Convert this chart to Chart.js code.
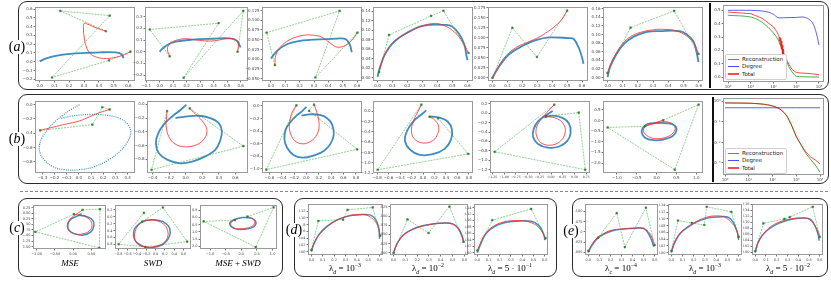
<!DOCTYPE html>
<html>
<head>
<meta charset="utf-8">
<script src="https://cdn.jsdelivr.net/npm/chart.js@4.4.0/dist/chart.umd.min.js"></script>
<style>
  body { margin:0; background:#fff; width:831px; height:282px; position:relative; overflow:hidden; font-family:"DejaVu Sans",sans-serif; }
  canvas { position:absolute; }
  .box { position:absolute; border:1.5px solid #2b2b2b; border-radius:9px; box-sizing:border-box; }
  .sep { position:absolute; width:2px; background:#111; }
  .tag { position:absolute; font-family:"Liberation Serif",serif; font-size:14px; line-height:14px; background:#fff; padding:0 1px; transform:translate(-50%,-50%); z-index:5; }
  .cap { position:absolute; font-family:"Liberation Serif",serif; font-size:9px; white-space:nowrap; transform:translate(-50%,-50%); z-index:5; }
  .cap sub, .cap sup { font-size:65%; line-height:0; }
  .lg { position:absolute; z-index:6; border:0.8px solid #cfcfcf; border-radius:2px; background:#fff; padding:1px 3px 1px 2px; font:5.5px "DejaVu Sans",sans-serif; line-height:7.3px; color:#222; }
  .lg span { display:inline-block; width:11px; height:1.2px; vertical-align:middle; margin-right:3px; }
</style>
</head>
<body>
<div class="box" style="left:18px;top:1px;width:811px;height:89px"></div>
<div class="box" style="left:18px;top:94px;width:811px;height:90px"></div>
<div style="position:absolute;left:20px;top:191px;width:808px;border-top:1px dashed #888"></div>
<div class="box" style="left:18px;top:198px;width:265px;height:79px"></div>
<div class="box" style="left:294px;top:198px;width:263px;height:79px"></div>
<div class="box" style="left:572px;top:198px;width:256px;height:79px"></div>
<div class="sep" style="left:709px;top:3px;height:85px"></div>
<div class="sep" style="left:712px;top:97px;height:85px"></div>

<div class="tag" style="left:17px;top:47px">(<i>a</i>)</div>
<div class="tag" style="left:17px;top:139px">(<i>b</i>)</div>
<div class="tag" style="left:17px;top:228px">(<i>c</i>)</div>
<div class="tag" style="left:294px;top:230px">(<i>d</i>)</div>
<div class="tag" style="left:571px;top:231px">(<i>e</i>)</div>

<div class="cap" style="left:70px;top:263px"><i>MSE</i></div>
<div class="cap" style="left:153px;top:263px"><i>SWD</i></div>
<div class="cap" style="left:238px;top:263px"><i>MSE</i> + <i>SWD</i></div>
<div class="cap" style="left:345px;top:268px">λ<sub><i>d</i></sub> = 10<sup>−3</sup></div>
<div class="cap" style="left:428px;top:268px">λ<sub><i>d</i></sub> = 10<sup>−2</sup></div>
<div class="cap" style="left:510px;top:268px">λ<sub><i>d</i></sub> = 5 · 10<sup>−1</sup></div>
<div class="cap" style="left:621px;top:268px">λ<sub><i>c</i></sub> = 10<sup>−4</sup></div>
<div class="cap" style="left:705px;top:268px">λ<sub><i>d</i></sub> = 10<sup>−3</sup></div>
<div class="cap" style="left:788px;top:268px">λ<sub><i>d</i></sub> = 5 · 10<sup>−2</sup></div>

<div class="lg" style="left:725px;top:54px">
  <div><span style="background:#3aa83a"></span>Reconstruction</div>
  <div><span style="background:#4a4aff"></span>Degree</div>
  <div><span style="background:#ff4a4a"></span>Total</div>
</div>
<div class="lg" style="left:725px;top:148px">
  <div><span style="background:#3aa83a"></span>Reconstruction</div>
  <div><span style="background:#4a4aff"></span>Degree</div>
  <div><span style="background:#ff4a4a"></span>Total</div>
</div>

<script>
// ---- row (a): control polygon (green), fitted curve (red), target curve (blue)
const a1Ctrl = [[0.447,0.348],[0.14,0.58],[0.473,0.526],[0.084,-0.18],[0.469,0.015],[0.613,0.115]];
const a1Fit = [[0.447,0.348],[0.384,0.385],[0.322,0.43],[0.30,0.437],[0.296,0.385],[0.30,0.293],[0.313,0.181],[0.34,0.096],[0.384,0.052],[0.451,0.037],[0.518,0.052],[0.573,0.081],[0.613,0.115]];
const a1Tgt = [[0,0.004],[0.05,0.04],[0.118,0.07],[0.207,0.089],[0.318,0.1],[0.407,0.107],[0.507,0.107],[0.551,0.089],[0.567,0.041]];
const a1X = [0,0.1,0.2,0.3,0.4,0.5,0.6];
const a1Y = [-0.2,-0.1,0,0.1,0.2,0.3,0.4,0.5,0.6];

const a2Ctrl = [[0.075,-0.039],[-0.073,0.19],[0.437,0.244],[0.178,-0.222],[0.62,0.35],[0.578,0.0]];
const a2Fit = [[0.075,-0.039],[0.058,0.022],[0.075,0.069],[0.12,0.097],[0.195,0.111],[0.295,0.097],[0.395,0.092],[0.495,0.111],[0.558,0.106],[0.583,0.064],[0.578,0.0]];
const a2Tgt = [[0,0],[0.045,0.05],[0.12,0.086],[0.245,0.103],[0.395,0.111],[0.52,0.114],[0.575,0.092],[0.6,0.036]];
const a2X = [-0.1,0,0.1,0.2,0.3,0.4,0.5,0.6];
const a2Y = [-0.2,-0.1,0,0.1,0.2,0.3];

const a3Ctrl = [[0.028,-0.015],[-0.03,0.068],[0.478,0.124],[0.31,-0.047],[0.602,0.068]];
const a3Fit = [[0.028,-0.015],[0.034,0.01],[0.069,0.0325],[0.126,0.049],[0.207,0.06],[0.287,0.062],[0.356,0.056],[0.414,0.041],[0.46,0.031],[0.517,0.035],[0.563,0.049],[0.602,0.068]];
const a3Tgt = [[0,0.002],[0.046,0.0225],[0.115,0.039],[0.184,0.046],[0.299,0.05],[0.46,0.053],[0.517,0.052],[0.547,0.039],[0.563,0.018]];
const a3X = [0,0.1,0.2,0.3,0.4,0.5,0.6];
const a3Y = [-0.05,-0.025,0,0.025,0.05,0.075,0.1,0.125];

const a4Ctrl = [[0.011,0.012],[0.077,0.09],[0.358,0.13],[0.44,0.141],[0.607,0.052]];
const a4Fit = [[0.011,0.012],[0.029,0.033],[0.062,0.057],[0.116,0.078],[0.193,0.093],[0.281,0.107],[0.369,0.114],[0.435,0.111],[0.501,0.099],[0.556,0.081],[0.607,0.052]];
const a4Tgt = [[0,0.002],[0.018,0.023],[0.051,0.05],[0.105,0.074],[0.193,0.094],[0.303,0.109],[0.457,0.111],[0.501,0.107],[0.545,0.092],[0.578,0.071],[0.593,0.047],[0.6,0.037]];
const a4X = [0,0.1,0.2,0.3,0.4,0.5,0.6];
const a4Y = [0,0.02,0.04,0.06,0.08,0.10,0.12,0.14];

const a5Ctrl = [[0,0],[0.133,0.125],[0.298,0.052],[0.5,0.168]];
const a5Fit = [[0,0],[0.038,0.027],[0.093,0.056],[0.159,0.076],[0.236,0.089],[0.313,0.102],[0.357,0.112],[0.423,0.13],[0.467,0.147],[0.5,0.168]];
const a5Tgt = [[0,0],[0.049,0.031],[0.115,0.06],[0.203,0.08],[0.291,0.094],[0.379,0.101],[0.511,0.099],[0.544,0.097],[0.577,0.076],[0.599,0.052],[0.61,0.035]];
const a5X = [0,0.1,0.2,0.3,0.4,0.5,0.6];
const a5Y = [0,0.025,0.05,0.075,0.1,0.125,0.15,0.175];

const a6Ctrl = [[0,0.011],[0.151,0.116],[0.438,0.155],[0.598,0.055]];
const a6Fit = [[0,0.011],[0.022,0.033],[0.054,0.055],[0.097,0.078],[0.151,0.095],[0.216,0.105],[0.302,0.111],[0.378,0.112],[0.454,0.108],[0.518,0.097],[0.572,0.078],[0.598,0.055]];
const a6Tgt = [[0,0.001],[0.017,0.025],[0.054,0.052],[0.108,0.078],[0.173,0.095],[0.259,0.106],[0.346,0.108],[0.475,0.108],[0.518,0.101],[0.562,0.086],[0.583,0.063],[0.594,0.044],[0.598,0.036]];
const a6X = [0,0.1,0.2,0.3,0.4,0.5,0.6];
const a6Y = [0,0.02,0.04,0.06,0.08,0.10,0.12,0.14,0.16];

// ---- row (b)
const b1Ctrl = [[-0.318,-0.36],[0.11,-0.28],[0.192,-0.036],[0.252,-0.067]];
const b1Fit = [[-0.318,-0.36],[-0.214,-0.316],[-0.104,-0.271],[0.005,-0.227],[0.088,-0.169],[0.17,-0.111],[0.252,-0.067]];
const b1Tgt = [[0.005,0],[-0.063,-0.067],[-0.132,-0.147],[-0.2,-0.244],[-0.255,-0.347],[-0.301,-0.458],[-0.323,-0.569],[-0.318,-0.68],[-0.282,-0.778],[-0.214,-0.867],[-0.118,-0.911],[0.005,-0.911],[0.129,-0.867],[0.238,-0.778],[0.334,-0.658],[0.397,-0.524],[0.425,-0.391],[0.403,-0.28],[0.334,-0.191],[0.225,-0.147],[0.088,-0.138],[-0.049,-0.156],[-0.145,-0.191]];
const b1X = [-0.3,-0.2,-0.1,0,0.1,0.2,0.3,0.4];
const b1Y = [-0.8,-0.6,-0.4,-0.2,0];

const b2Ctrl = [[0.048,-0.06],[0.696,-0.609],[-0.412,-0.953],[-0.224,-0.098]];
const b2Fit = [[0.048,-0.06],[0.136,-0.163],[0.216,-0.27],[0.256,-0.386],[0.224,-0.502],[0.136,-0.586],[-0.004,-0.619],[-0.124,-0.581],[-0.204,-0.47],[-0.236,-0.316],[-0.232,-0.2],[-0.224,-0.098]];
const b2Tgt = [[0.008,-0.005],[-0.064,-0.084],[-0.164,-0.177],[-0.264,-0.293],[-0.336,-0.433],[-0.36,-0.572],[-0.324,-0.712],[-0.224,-0.805],[-0.064,-0.86],[0.096,-0.828],[0.236,-0.758],[0.356,-0.665],[0.416,-0.526],[0.436,-0.386],[0.396,-0.27],[0.296,-0.2],[0.156,-0.167],[0.016,-0.177],[-0.124,-0.2]];
const b2X = [-0.4,-0.2,0,0.2,0.4,0.6];
const b2Y = [-0.8,-0.6,-0.4,-0.2,0];

const b3Ctrl = [[0.124,0.021],[0.043,-0.077],[0.822,-0.692],[-0.649,-1.015],[-0.162,0.01]];
const b3Fit = [[0.124,0.021],[0.173,-0.118],[0.205,-0.297],[0.173,-0.451],[0.081,-0.554],[-0.054,-0.605],[-0.189,-0.554],[-0.27,-0.4],[-0.27,-0.246],[-0.227,-0.092],[-0.162,0.01]];
const b3Tgt = [[0,-0.015],[-0.07,-0.082],[-0.162,-0.154],[-0.259,-0.256],[-0.335,-0.374],[-0.357,-0.528],[-0.314,-0.667],[-0.205,-0.785],[-0.054,-0.826],[0.119,-0.79],[0.281,-0.718],[0.389,-0.605],[0.443,-0.451],[0.416,-0.297],[0.335,-0.195],[0.216,-0.144],[0.054,-0.133],[-0.081,-0.154]];
const b3X = [-0.6,-0.4,-0.2,0,0.2,0.4,0.6,0.8];
const b3Y = [-1.0,-0.8,-0.6,-0.4,-0.2,0];

const b4Ctrl = [[-0.029,0.129],[-0.789,-1.132],[0.789,-0.825],[0.263,-0.135],[0.114,-0.105]];
const b4Fit = [[-0.029,0.129],[-0.086,0],[-0.16,-0.166],[-0.2,-0.351],[-0.16,-0.523],[0,-0.615],[0.171,-0.566],[0.257,-0.431],[0.269,-0.277],[0.2,-0.166],[0.114,-0.105]];
const b4Tgt = [[0.057,0.018],[-0.029,-0.062],[-0.16,-0.185],[-0.274,-0.369],[-0.314,-0.566],[-0.229,-0.738],[-0.057,-0.843],[0.171,-0.831],[0.371,-0.732],[0.486,-0.554],[0.503,-0.351],[0.429,-0.197],[0.286,-0.123],[0.114,-0.098]];
const b4X = [-0.8,-0.6,-0.4,-0.2,0,0.2,0.4,0.6,0.8];
const b4Y = [-1.2,-1.0,-0.8,-0.6,-0.4,-0.2,0];

const b5Ctrl = [[-0.104,-0.067],[0.59,0.013],[0.729,-1.2],[-1.2,-0.82],[0.069,0.18]];
const b5Fit = [[-0.104,-0.067],[0.139,-0.12],[0.278,-0.253],[0.299,-0.42],[0.208,-0.587],[0.035,-0.673],[-0.174,-0.653],[-0.299,-0.507],[-0.313,-0.32],[-0.229,-0.153],[-0.09,0.013],[0.069,0.18]];
const b5Tgt = [[0.035,0.047],[-0.139,-0.067],[-0.278,-0.173],[-0.368,-0.333],[-0.382,-0.507],[-0.278,-0.653],[-0.069,-0.733],[0.174,-0.707],[0.347,-0.587],[0.417,-0.42],[0.382,-0.22],[0.243,-0.1],[0.035,-0.053],[-0.139,-0.087]];
const b5X = [-1.25,-1.0,-0.75,-0.5,-0.25,0,0.25,0.5,0.75];
const b5Y = [-1.2,-1.0,-0.8,-0.6,-0.4,-0.2,0,0.2];

const b6Ctrl = [[0.167,0.015],[1.058,0.746],[0.458,-2.313],[-1.233,-0.328],[-0.292,-0.269]];
const b6Fit = [[0.167,0.015],[-0.042,-0.104],[-0.233,-0.224],[-0.333,-0.448],[-0.25,-0.701],[-0.042,-0.851],[0.233,-0.791],[0.417,-0.582],[0.467,-0.299],[0.35,-0.104],[0.125,-0.06],[-0.125,-0.179],[-0.292,-0.269]];
const b6Tgt = [[-0.333,-0.328],[-0.233,-0.164],[0,-0.119],[0.292,-0.134],[0.458,-0.239],[0.5,-0.478],[0.4,-0.746],[0.167,-0.896],[-0.083,-0.925],[-0.292,-0.806],[-0.375,-0.552],[-0.35,-0.358],[-0.333,-0.328]];
const b6X = [-1.0,-0.5,0,0.5,1.0];
const b6Y = [-2.0,-1.5,-1.0,-0.5,0,0.5];

// ---- row (c): loss comparison
const c1Ctrl = [[0.258,0.155],[0.735,0.181],[0.717,-1.549],[-1.036,-0.833],[0.019,-0.04]];
const c1Fit = [[0.258,0.155],[0.139,0.012],[0.019,-0.118],[-0.109,-0.326],[-0.164,-0.573],[-0.109,-0.794],[0.047,-0.924],[0.258,-0.924],[0.441,-0.794],[0.515,-0.56],[0.478,-0.339],[0.35,-0.17],[0.184,-0.092],[0.019,-0.04]];
const c1Tgt = [[0.23,-0.014],[0.093,-0.144],[-0.072,-0.274],[-0.146,-0.508],[-0.109,-0.768],[0.047,-0.924],[0.276,-0.976],[0.478,-0.846],[0.57,-0.56],[0.533,-0.3],[0.368,-0.144],[0.139,-0.092]];
const c1X = [-1.0,-0.5,0,0.5];
const c1Y = [-1.5,-1.25,-1.0,-0.75,-0.5,-0.25,0,0.25];

const c2Ctrl = [[-0.286,-0.138],[0.157,0.269],[0.679,-0.715],[-0.221,-0.869],[-0.793,-0.792],[-0.25,0.115]];
const c2Fit = [[-0.286,-0.138],[-0.143,-0.1],[0.029,-0.115],[0.171,-0.208],[0.25,-0.362],[0.264,-0.554],[0.193,-0.731],[0.014,-0.854],[-0.2,-0.869],[-0.379,-0.792],[-0.45,-0.615],[-0.436,-0.423],[-0.379,-0.254],[-0.286,-0.138]];
const c2Tgt = [[-0.343,-0.192],[-0.2,-0.1],[-0.021,-0.085],[0.157,-0.138],[0.279,-0.269],[0.314,-0.462],[0.264,-0.654],[0.143,-0.808],[-0.057,-0.885],[-0.236,-0.869],[-0.4,-0.746],[-0.471,-0.562],[-0.45,-0.346],[-0.343,-0.192]];
const c2X = [-0.8,-0.6,-0.4,-0.2,0,0.2,0.4,0.6];
const c2Y = [-0.8,-0.6,-0.4,-0.2,0,0.2];

const c3Ctrl = [[0.194,0.071],[1.032,0.714],[0.462,-2.054],[-1.204,-0.268],[-0.204,-0.179]];
const c3Fit = [[0.194,0.071],[0.366,-0.071],[0.43,-0.321],[0.366,-0.571],[0.172,-0.732],[-0.075,-0.786],[-0.28,-0.679],[-0.344,-0.446],[-0.28,-0.25],[-0.204,-0.179]];
const c3Tgt = [[-0.237,-0.143],[0.032,0],[0.301,-0.036],[0.452,-0.232],[0.452,-0.5],[0.323,-0.714],[0.065,-0.821],[-0.183,-0.786],[-0.344,-0.589],[-0.366,-0.357],[-0.237,-0.143]];
const c3X = [-1.0,-0.5,0,0.5,1.0];
const c3Y = [-2.0,-1.5,-1.0,-0.5,0,0.5];

// ---- row (d)
const d1Ctrl = [[0,0.005],[0.061,0.091],[0.279,0.095],[0.318,0.124],[0.539,0.131],[0.606,0.047]];
const d1Fit = [[0,0.005],[0.03,0.029],[0.076,0.053],[0.136,0.073],[0.212,0.091],[0.303,0.104],[0.4,0.11],[0.485,0.108],[0.545,0.095],[0.582,0.078],[0.606,0.047]];
const d1Tgt = [[0,0],[0.024,0.025],[0.067,0.051],[0.136,0.075],[0.227,0.094],[0.333,0.106],[0.424,0.109],[0.515,0.109],[0.561,0.097],[0.591,0.073],[0.6,0.038]];
const d1Y = [0,0.02,0.04,0.06,0.08,0.10,0.12];

const d2Ctrl = [[0,0],[0.118,0.091],[0.296,0.054],[0.473,0.126],[0.592,0.03]];
const d2Fit = [[0,0],[0.03,0.024],[0.074,0.045],[0.133,0.06],[0.222,0.071],[0.325,0.078],[0.414,0.081],[0.488,0.079],[0.547,0.067],[0.577,0.05],[0.592,0.03]];
const d2Tgt = [[0,0],[0.03,0.026],[0.08,0.048],[0.148,0.062],[0.237,0.073],[0.34,0.079],[0.429,0.081],[0.503,0.079],[0.547,0.067],[0.577,0.048],[0.595,0.028]];
const d2Y = [0,0.025,0.05,0.075,0.1,0.125];

const d3Ctrl = [[0,0.007],[0.133,0.101],[0.48,0.136],[0.608,0.045]];
const d3Fit = [[0,0.007],[0.027,0.03],[0.067,0.057],[0.133,0.08],[0.227,0.095],[0.333,0.1],[0.427,0.098],[0.507,0.089],[0.565,0.071],[0.608,0.045]];
const d3Tgt = [[0,0],[0.027,0.025],[0.072,0.057],[0.147,0.08],[0.24,0.093],[0.347,0.098],[0.48,0.098],[0.547,0.085],[0.587,0.062],[0.603,0.039]];
const d3Y = [0,0.02,0.04,0.06,0.08,0.10,0.12,0.14];

// ---- row (e)
const e1Ctrl = [[0,0.004],[0.088,0.036],[0.257,0.096],[0.33,0.013],[0.52,0.109],[0.599,0.018]];
const e1Fit = [[0,0.004],[0.029,0.018],[0.073,0.034],[0.132,0.045],[0.205,0.054],[0.292,0.057],[0.395,0.059],[0.488,0.059],[0.541,0.051],[0.576,0.036],[0.599,0.018]];
const e1Tgt = [[0,0],[0.029,0.016],[0.073,0.032],[0.137,0.044],[0.219,0.053],[0.322,0.057],[0.424,0.059],[0.497,0.059],[0.535,0.05],[0.57,0.032],[0.591,0.014]];
const e1Y = [0,0.025,0.05,0.075,0.1];

const e2Ctrl = [[0,0.005],[0.059,0.095],[0.182,0.088],[0.294,0.082],[0.315,0.136],[0.535,0.121],[0.6,0.047]];
const e2Fit = [[0,0.005],[0.029,0.032],[0.074,0.056],[0.138,0.075],[0.226,0.093],[0.315,0.105],[0.397,0.109],[0.476,0.105],[0.544,0.086],[0.579,0.068],[0.6,0.047]];
const e2Tgt = [[0,0],[0.026,0.027],[0.074,0.055],[0.138,0.073],[0.226,0.091],[0.329,0.103],[0.418,0.106],[0.506,0.105],[0.55,0.091],[0.585,0.064],[0.6,0.038]];
const e2Y = [0,0.02,0.04,0.06,0.08,0.10,0.12,0.14];

const e3Ctrl = [[0,0.005],[0.076,0.097],[0.271,0.112],[0.321,0.118],[0.534,0.152],[0.6,0.052]];
const e3Fit = [[0,0.005],[0.029,0.035],[0.076,0.062],[0.14,0.085],[0.227,0.102],[0.329,0.112],[0.431,0.115],[0.504,0.11],[0.554,0.09],[0.583,0.07],[0.6,0.052]];
const e3Tgt = [[0,0],[0.023,0.03],[0.067,0.058],[0.134,0.08],[0.222,0.098],[0.329,0.11],[0.461,0.115],[0.513,0.11],[0.554,0.09],[0.583,0.062],[0.595,0.04]];
const e3Y = [0,0.02,0.04,0.06,0.08,0.10,0.12,0.14,0.16];

const unitX = [0,0.1,0.2,0.3,0.4,0.5,0.6];

// ---- loss histories (iterations, loss)
const lossAIter = [1,10,32,100,140,170,180,190,200,210,220,230,240,250,260,275,290,310,400,500,631,800,1000,1585,3162,10000];
const lossATotal = [0.487,0.475,0.44,0.375,0.34,0.31,0.27,0.30,0.24,0.29,0.21,0.27,0.19,0.24,0.17,0.21,0.16,0.17,0.12,0.09,0.06,0.045,0.035,0.03,0.028,0.018];
const lossARecIter = [1,10,32,100,158,200,316,500,794,1000,2000,10000];
const lossARec = [0.463,0.45,0.41,0.33,0.28,0.24,0.15,0.07,0.02,0.006,0.002,0.0];
const lossADegIter = [1,10,32,63,100,158,316,1000,2000,3162,5012,7079,10000];
const lossADeg = [0.50,0.50,0.495,0.485,0.47,0.445,0.445,0.447,0.45,0.44,0.41,0.35,0.24];
const lossAYTicks = [0,0.1,0.2,0.3,0.4,0.5];

const lossBIter = [1,10,32,63,100,158,251,398,631,1000,1585,2512,3981,6310,10000];
const lossBTotal = [0.85,0.82,0.76,0.68,0.6,0.5,0.36,0.2,0.07,0.02,0.008,0.0035,0.002,0.0014,0.0009];
const lossBRec = [0.84,0.81,0.75,0.67,0.59,0.49,0.35,0.19,0.068,0.019,0.0075,0.003,0.0015,0.0008,0.00035];
const lossBDegIter = [1,10,100,1000,10000];
const lossBDeg = [0.49,0.49,0.49,0.49,0.49];
const lossBYTicks = [0.001,0.01,0.1,1];
const iterTicks = [1,10,100,1000,10000];

// ---------------------------------------------------------------
const pts = arr => arr.map(p => ({x: p[0], y: p[1]}));
const zip = (xs, ys) => xs.map((x, i) => ({x: x, y: ys[i]}));
const minus = s => s.replace('-', '\u2212');
const sup = e => String(e).replace('-', '\u207b').replace(/\d/g, d => '\u2070\u00b9\u00b2\u00b3\u2074\u2075\u2076\u2077\u2078\u2079'[d]);
const pow10 = v => '10' + sup(Math.round(Math.log10(v)));

const framePlugin = {
  id: 'frame',
  afterDatasetsDraw(c) {
    const a = c.chartArea, g = c.ctx;
    g.save();
    g.strokeStyle = '#9a9a9a';
    g.lineWidth = 1;
    g.strokeRect(Math.round(a.left) + 0.5, Math.round(a.top) + 0.5, Math.round(a.right - a.left) - 1, Math.round(a.bottom - a.top) - 1);
    g.restore();
  }
};

function axis(o) {
  return {
    type: o.type || 'linear', min: o.min, max: o.max,
    afterBuildTicks: s => { s.ticks = o.ticks.map(v => ({value: v})); },
    afterFit: s => { if (o.w) s.width = o.w; if (o.h) s.height = o.h; },
    grid: {drawOnChartArea: false, drawTicks: true, tickLength: 1.5, color: '#777'},
    border: {display: false},
    ticks: {font: {size: o.fs, family: 'DejaVu Sans'}, color: '#444', padding: 1, autoSkip: false, maxRotation: 0,
            callback: o.fmt}
  };
}

function makeCanvas(box, yw, xh) {
  const [l, t, r, b] = box;
  const cv = document.createElement('canvas');
  cv.width = (r - l) + yw + 6;
  cv.height = (b - t) + xh + 3;
  cv.style.left = (l - yw) + 'px';
  cv.style.top = (t - 3) + 'px';
  document.body.appendChild(cv);
  return cv;
}

function shapePanel(p) {
  const yw = p.yw || 14, xh = p.xh || 8, fs = p.fs || 4;
  const bw = p.fs ? 1.5 : 1.8;
  const cv = makeCanvas(p.box, yw, xh);
  new Chart(cv, {
    type: 'scatter',
    data: {datasets: [
      {data: pts(p.fit), showLine: true, borderColor: 'rgba(255,40,40,0.8)', borderWidth: 1, pointRadius: 0, tension: 0.4, order: 1},
      {data: pts(p.ctrl), showLine: true, borderColor: 'rgba(50,165,50,0.75)', borderWidth: 0.7, borderDash: [2, 1],
       pointStyle: 'rect', pointRadius: 1.2, pointBackgroundColor: '#2a8c2a', pointBorderColor: '#1c6a1c', pointBorderWidth: 0.4, tension: 0, order: 2},
      {data: pts(p.tgt), showLine: true, borderColor: 'rgba(31,119,180,0.85)', borderWidth: p.dotted ? 1.2 : bw,
       borderDash: p.dotted ? [1, 1.2] : [], pointRadius: 0, tension: 0.4, order: 3}
    ]},
    options: {
      responsive: false, animation: false, events: [],
      layout: {padding: {left: 0, right: 6, top: 3, bottom: 0}},
      plugins: {legend: {display: false}, tooltip: {enabled: false}},
      scales: {
        x: axis({min: p.xr[0], max: p.xr[1], ticks: p.xt, h: xh, fs: p.xfs || fs, fmt: v => minus(v.toFixed(p.xd))}),
        y: axis({min: p.yr[0], max: p.yr[1], ticks: p.yt, w: yw, fs: fs, fmt: v => minus(v.toFixed(p.yd))})
      }
    },
    plugins: [framePlugin]
  });
}

function lossPanel(box, sets, xr, yr, yTicks, logY) {
  const cv = makeCanvas(box, 14, 8);
  new Chart(cv, {
    type: 'scatter',
    data: {datasets: sets.map((s, i) => ({data: s.data, showLine: true, borderColor: s.color, borderWidth: 1,
      pointRadius: 0, tension: s.tension, order: 3 - i}))},
    options: {
      responsive: false, animation: false, events: [],
      layout: {padding: {left: 0, right: 6, top: 3, bottom: 0}},
      plugins: {legend: {display: false}, tooltip: {enabled: false}},
      scales: {
        x: axis({type: 'logarithmic', min: xr[0], max: xr[1], ticks: iterTicks, h: 8, fs: 4, fmt: v => pow10(v)}),
        y: axis({type: logY ? 'logarithmic' : 'linear', min: yr[0], max: yr[1], ticks: yTicks, w: 14, fs: 4,
                 fmt: v => logY ? pow10(v) : v.toFixed(1)})
      }
    },
    plugins: [framePlugin]
  });
}

const shapePanels = [
  {box: [35, 6, 135, 81], ctrl: a1Ctrl, fit: a1Fit, tgt: a1Tgt, xt: a1X, yt: a1Y, xr: [-0.031, 0.644], yr: [-0.22, 0.62], xd: 1, yd: 1},
  {box: [145, 6, 248, 81], ctrl: a2Ctrl, fit: a2Fit, tgt: a2Tgt, xt: a2X, yt: a2Y, xr: [-0.108, 0.655], yr: [-0.25, 0.379], xd: 1, yd: 1},
  {box: [262, 6, 362, 81], ctrl: a3Ctrl, fit: a3Fit, tgt: a3Tgt, xt: a3X, yt: a3Y, xr: [-0.062, 0.634], yr: [-0.056, 0.133], xd: 1, yd: 3, yw: 16},
  {box: [373, 6, 473, 81], ctrl: a4Ctrl, fit: a4Fit, tgt: a4Tgt, xt: a4X, yt: a4Y, xr: [-0.03, 0.637], yr: [-0.007, 0.148], xd: 1, yd: 2},
  {box: [488, 6, 588, 81], ctrl: a5Ctrl, fit: a5Fit, tgt: a5Tgt, xt: a5X, yt: a5Y, xr: [-0.03, 0.64], yr: [-0.008, 0.176], xd: 1, yd: 3},
  {box: [603, 6, 703, 81], ctrl: a6Ctrl, fit: a6Fit, tgt: a6Tgt, xt: a6X, yt: a6Y, xr: [-0.03, 0.628], yr: [-0.008, 0.163], xd: 1, yd: 2},

  {box: [35, 100, 135, 173], ctrl: b1Ctrl, fit: b1Fit, tgt: b1Tgt, xt: b1X, yt: b1Y, xr: [-0.36, 0.46], yr: [-0.957, 0.046], xd: 1, yd: 1, dotted: true},
  {box: [147, 100, 248, 173], ctrl: b2Ctrl, fit: b2Fit, tgt: b2Tgt, xt: b2X, yt: b2Y, xr: [-0.467, 0.751], yr: [-1.0, 0.042], xd: 1, yd: 1},
  {box: [262, 100, 362, 173], ctrl: b3Ctrl, fit: b3Fit, tgt: b3Tgt, xt: b3X, yt: b3Y, xr: [-0.72, 0.9], yr: [-1.07, 0.073], xd: 1, yd: 1},
  {box: [373, 100, 473, 173], ctrl: b4Ctrl, fit: b4Fit, tgt: b4Tgt, xt: b4X, yt: b4Y, xr: [-0.87, 0.87], yr: [-1.195, 0.192], xd: 1, yd: 1},
  {box: [490, 100, 590, 173], ctrl: b5Ctrl, fit: b5Fit, tgt: b5Tgt, xt: b5X, yt: b5Y, xr: [-1.3, 0.83], yr: [-1.27, 0.25], xd: 2, yd: 1, xfs: 3.2},
  {box: [603, 100, 703, 173], ctrl: b6Ctrl, fit: b6Fit, tgt: b6Tgt, xt: b6X, yt: b6Y, xr: [-1.35, 1.17], yr: [-2.47, 0.9], xd: 1, yd: 1},

  {box: [33, 204, 106, 249], ctrl: c1Ctrl, fit: c1Fit, tgt: c1Tgt, xt: c1X, yt: c1Y, xr: [-1.1, 0.9], yr: [-1.6, 0.35], xd: 2, yd: 2, yw: 10, xh: 7, fs: 3.5},
  {box: [115, 204, 191, 249], ctrl: c2Ctrl, fit: c2Fit, tgt: c2Tgt, xt: c2X, yt: c2Y, xr: [-0.87, 0.76], yr: [-0.93, 0.33], xd: 1, yd: 1, yw: 8, xh: 7, fs: 3.5},
  {box: [200, 204, 277, 249], ctrl: c3Ctrl, fit: c3Fit, tgt: c3Tgt, xt: c3X, yt: c3Y, xr: [-1.32, 1.14], yr: [-2.19, 0.85], xd: 1, yd: 1, yw: 8, xh: 7, fs: 3.5},

  {box: [308, 203, 383, 255], ctrl: d1Ctrl, fit: d1Fit, tgt: d1Tgt, xt: unitX, yt: d1Y, xr: [-0.03, 0.63], yr: [-0.01, 0.14], xd: 1, yd: 2, yw: 9, xh: 7, fs: 3.5},
  {box: [390, 203, 468, 255], ctrl: d2Ctrl, fit: d2Fit, tgt: d2Tgt, xt: unitX, yt: d2Y, xr: [-0.03, 0.63], yr: [-0.006, 0.132], xd: 1, yd: 3, yw: 10, xh: 7, fs: 3.5},
  {box: [474, 203, 548, 255], ctrl: d3Ctrl, fit: d3Fit, tgt: d3Tgt, xt: unitX, yt: d3Y, xr: [-0.03, 0.63], yr: [-0.007, 0.15], xd: 1, yd: 2, yw: 9, xh: 7, fs: 3.5},

  {box: [585, 203, 658, 255], ctrl: e1Ctrl, fit: e1Fit, tgt: e1Tgt, xt: unitX, yt: e1Y, xr: [-0.03, 0.63], yr: [-0.006, 0.117], xd: 1, yd: 3, yw: 10, xh: 7, fs: 3.5},
  {box: [668, 203, 742, 255], ctrl: e2Ctrl, fit: e2Fit, tgt: e2Tgt, xt: unitX, yt: e2Y, xr: [-0.03, 0.63], yr: [-0.007, 0.143], xd: 1, yd: 2, yw: 9, xh: 7, fs: 3.5},
  {box: [752, 203, 823, 255], ctrl: e3Ctrl, fit: e3Fit, tgt: e3Tgt, xt: unitX, yt: e3Y, xr: [-0.03, 0.63], yr: [-0.008, 0.16], xd: 1, yd: 2, yw: 9, xh: 7, fs: 3.5}
];
shapePanels.forEach(shapePanel);

const green = 'rgba(20,160,20,0.8)', blue = 'rgba(40,40,255,0.75)', red = 'rgba(255,0,0,0.7)';
lossPanel([723, 5, 824, 82], [
  {data: zip(lossARecIter, lossARec), color: green, tension: 0.3},
  {data: zip(lossADegIter, lossADeg), color: blue, tension: 0.3},
  {data: zip(lossAIter, lossATotal), color: red, tension: 0}
], [0.6, 16600], [-0.037, 0.537], lossAYTicks, false);

lossPanel([723, 98, 824, 175], [
  {data: zip(lossBIter, lossBRec), color: green, tension: 0.3},
  {data: zip(lossBDegIter, lossBDeg), color: blue, tension: 0},
  {data: zip(lossBIter, lossBTotal), color: red, tension: 0.3}
], [0.82, 14700], [0.00026, 1.4], lossBYTicks, true);
</script>
</body>
</html>
